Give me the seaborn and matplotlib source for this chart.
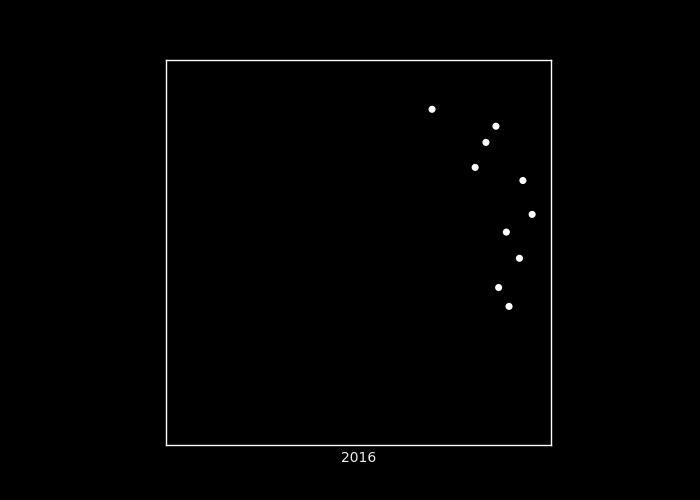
import matplotlib
matplotlib.use('Agg')
import matplotlib.pyplot as plt
import seaborn as sns
import pandas as pd

# values (axis range 0..100 on both sides)
x_vals = [69.1, 85.7, 83.1, 80.3, 92.7, 95.1, 88.4, 91.8, 86.4, 89.1]
y_vals = [87.2, 82.8, 78.6, 72.1, 68.7, 59.9, 55.3, 48.5, 40.9, 36.0]
year_label = '2016'

df = pd.DataFrame({'x': x_vals, 'y': y_vals})

sns.set_theme(style='dark')
plt.rcParams['font.family'] = ['DejaVu Sans']

fig = plt.figure(figsize=(7, 5), dpi=100, facecolor='#000000')
ax = fig.add_axes([166 / 700, 55 / 500, 385 / 700, 385 / 500])
ax.set_facecolor('#000000')

sns.scatterplot(data=df, x='x', y='y', ax=ax, color='white', s=26,
                edgecolor='none', linewidth=0)

ax.set_xlim(0, 100)
ax.set_ylim(0, 100)
ax.set_xticks([])
ax.set_yticks([])
ax.set_ylabel('')
ax.set_xlabel(year_label, color='#f0f0f0', fontsize=10, labelpad=4)
for sp in ax.spines.values():
    sp.set_visible(True)
    sp.set_color('white')
    sp.set_linewidth(1)
ax.grid(False)

fig.savefig('out.png', dpi=100, facecolor='#000000')
